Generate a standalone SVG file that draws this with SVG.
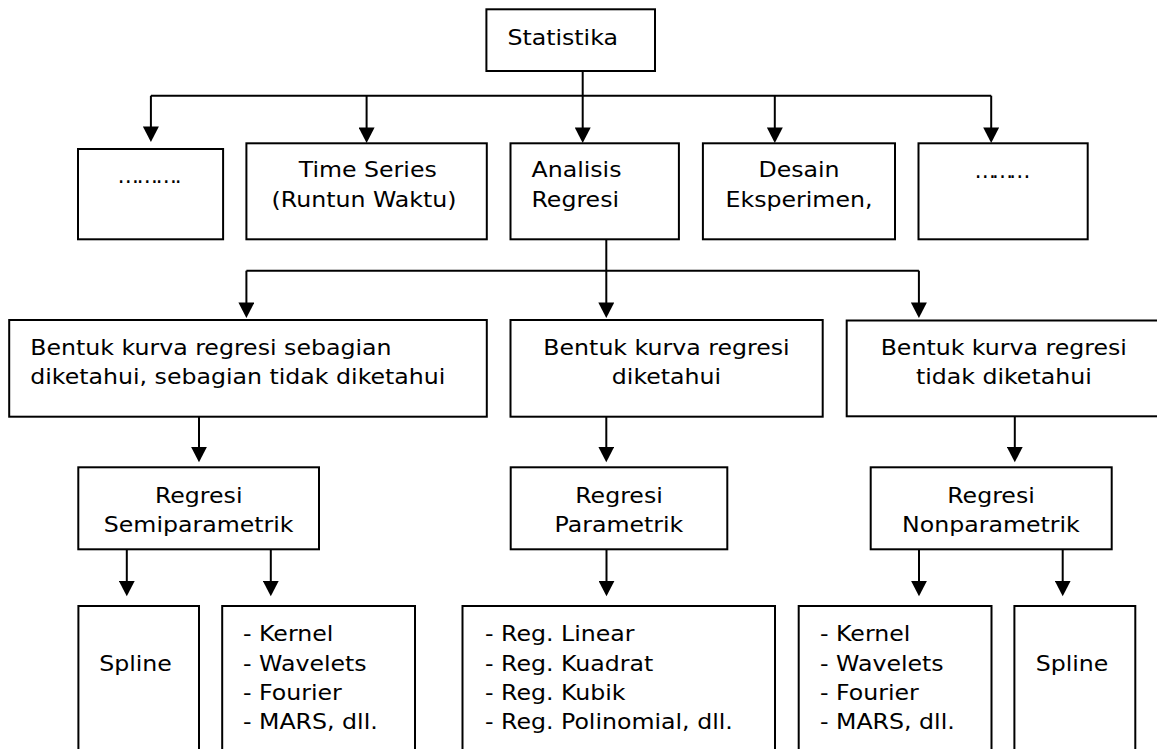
<svg xmlns="http://www.w3.org/2000/svg" width="1157" height="749" viewBox="0 0 1157 749">
<style>
rect { fill: #fff; stroke: #000; stroke-width: 2; }
.conn path { fill: none; stroke: #000; stroke-width: 2; }
text { font-family: "DejaVu Sans", Verdana, sans-serif; font-size: 21.5px; fill: #000; }
.c { text-anchor: middle; transform-box: fill-box; transform-origin: center; transform: scaleX(1.1); }
.l { text-anchor: start; transform-box: fill-box; transform-origin: left center; transform: scaleX(1.1); }
.d { text-anchor: middle; }
</style>
<defs>
<marker id="ah" markerUnits="userSpaceOnUse" markerWidth="16" markerHeight="16" viewBox="0 0 15 15.5" refX="7" refY="7.75" orient="auto">
<path d="M0,0 L15,7.75 L0,15.5 z" fill="#000"/>
</marker>
</defs>
<rect width="1157" height="749" style="fill:#fff;stroke:none"/>

<g class="conn" id="connectors">
<path d="M582.7,71 V134.7" marker-end="url(#ah)"/>
<path d="M150.9,95.7 H991.2"/>
<path d="M150.9,95.7 V133.7" marker-end="url(#ah)"/>
<path d="M366.6,95.7 V134.7" marker-end="url(#ah)"/>
<path d="M774.8,95.7 V134.7" marker-end="url(#ah)"/>
<path d="M991.2,95.7 V134.7" marker-end="url(#ah)"/>
<path d="M606.3,239.3 V309.7" marker-end="url(#ah)"/>
<path d="M246.4,270.7 H918.9"/>
<path d="M246.4,270.7 V309.7" marker-end="url(#ah)"/>
<path d="M918.9,270.7 V309.7" marker-end="url(#ah)"/>
<path d="M199,416.7 V454" marker-end="url(#ah)"/>
<path d="M606.3,416.7 V454" marker-end="url(#ah)"/>
<path d="M1014.8,416.3 V454" marker-end="url(#ah)"/>
<path d="M126.8,549.3 V588" marker-end="url(#ah)"/>
<path d="M270.8,549.3 V588" marker-end="url(#ah)"/>
<path d="M606.5,549.3 V588" marker-end="url(#ah)"/>
<path d="M919,549.3 V588" marker-end="url(#ah)"/>
<path d="M1062.7,549.3 V588" marker-end="url(#ah)"/>
</g>

<g id="statistika">
<rect x="486.4" y="9.3" width="168.6" height="61.7"/>
<text class="c" x="562.7" y="45">Statistika</text>
</g>

<g id="lainnya1">
<rect x="78" y="149" width="145.1" height="90.3"/>
<text class="d" x="149.5" y="183" textLength="64" lengthAdjust="spacing">……….</text>
</g>

<g id="time-series">
<rect x="246.4" y="143.3" width="240.4" height="96"/>
<text class="c" x="367.7" y="176.7">Time Series</text>
<text class="c" x="364" y="207">(Runtun Waktu)</text>
</g>

<g id="analisis-regresi">
<rect x="510.5" y="143.3" width="168.4" height="96"/>
<text class="l" x="531.5" y="176.7">Analisis</text>
<text class="l" x="531.5" y="207">Regresi</text>
</g>

<g id="desain-eksperimen">
<rect x="702.9" y="143.3" width="192.1" height="96"/>
<text class="c" x="799" y="176.7">Desain</text>
<text class="c" x="799" y="207">Eksperimen,</text>
</g>

<g id="lainnya2">
<rect x="918.5" y="143.3" width="169.2" height="96"/>
<text class="d" x="1002.4" y="178" textLength="56" lengthAdjust="spacing">………</text>
</g>

<g id="kurva-sebagian">
<rect x="9.2" y="320" width="477.6" height="96.7"/>
<text class="l" x="30.3" y="355.5">Bentuk kurva regresi sebagian</text>
<text class="l" x="30.3" y="384.5">diketahui, sebagian tidak diketahui</text>
</g>

<g id="kurva-diketahui">
<rect x="510.5" y="320" width="312.2" height="96.7"/>
<text class="c" x="666.5" y="355.5">Bentuk kurva regresi</text>
<text class="c" x="666.5" y="384.5">diketahui</text>
</g>

<g id="kurva-tidak-diketahui">
<rect x="846.7" y="320.5" width="320" height="95.8"/>
<text class="c" x="1003.8" y="355.5">Bentuk kurva regresi</text>
<text class="c" x="1003.8" y="384.5">tidak diketahui</text>
</g>

<g id="semiparametrik">
<rect x="78.3" y="467.3" width="240.7" height="82"/>
<text class="c" x="198.7" y="503.3">Regresi</text>
<text class="c" x="198.7" y="532">Semiparametrik</text>
</g>

<g id="parametrik">
<rect x="510.7" y="467.3" width="216.6" height="82"/>
<text class="c" x="619" y="503.3">Regresi</text>
<text class="c" x="619" y="532">Parametrik</text>
</g>

<g id="nonparametrik">
<rect x="870.7" y="467.3" width="241" height="82"/>
<text class="c" x="991" y="503.3">Regresi</text>
<text class="c" x="991" y="532">Nonparametrik</text>
</g>

<g id="spline-semi">
<rect x="78.4" y="606" width="120.6" height="160"/>
<text class="c" x="135.5" y="671">Spline</text>
</g>

<g id="metode-semi">
<rect x="222.2" y="606" width="192.8" height="160"/>
<text class="l" x="243" y="641.5">- Kernel</text>
<text class="l" x="243" y="671">- Wavelets</text>
<text class="l" x="243" y="700.5">- Fourier</text>
<text class="l" x="243" y="729.5">- MARS, dll.</text>
</g>

<g id="metode-parametrik">
<rect x="462.5" y="606" width="312.5" height="160"/>
<text class="l" x="485" y="641.5">- Reg. Linear</text>
<text class="l" x="485" y="671">- Reg. Kuadrat</text>
<text class="l" x="485" y="700.5">- Reg. Kubik</text>
<text class="l" x="485" y="729.5">- Reg. Polinomial, dll.</text>
</g>

<g id="metode-nonpar">
<rect x="798.7" y="606" width="192.8" height="160"/>
<text class="l" x="820" y="641.5">- Kernel</text>
<text class="l" x="820" y="671">- Wavelets</text>
<text class="l" x="820" y="700.5">- Fourier</text>
<text class="l" x="820" y="729.5">- MARS, dll.</text>
</g>

<g id="spline-nonpar">
<rect x="1014.4" y="606" width="120.9" height="160"/>
<text class="c" x="1072" y="671">Spline</text>
</g>
</svg>
